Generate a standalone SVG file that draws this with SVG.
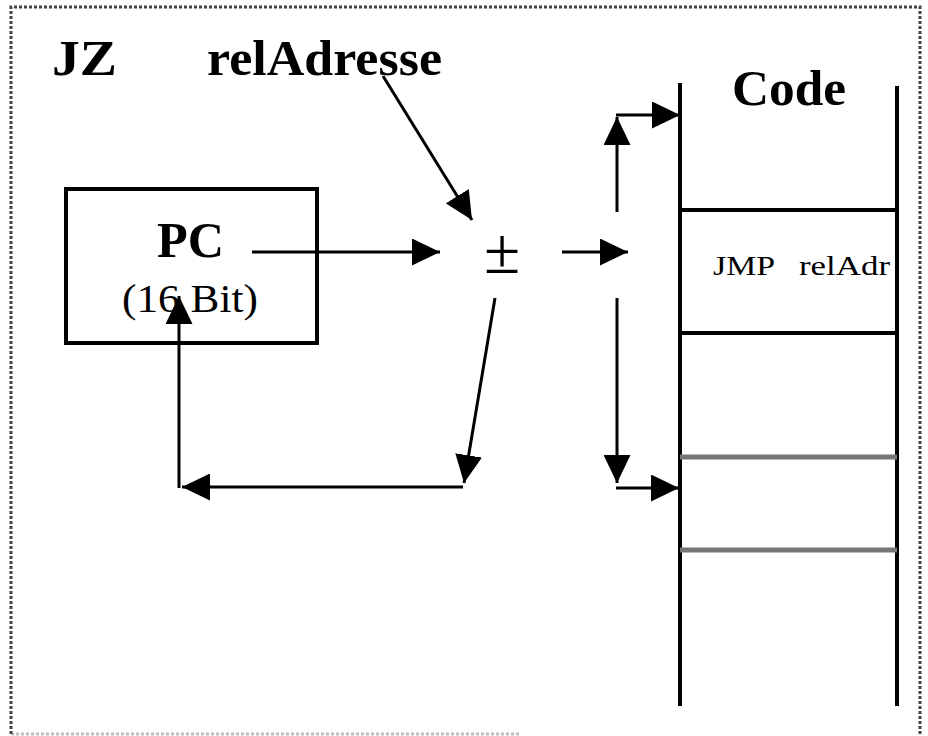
<svg xmlns="http://www.w3.org/2000/svg" width="928" height="736" viewBox="0 0 928 736">
  <style>
    .frame { fill: none; stroke: #444; stroke-width: 3; stroke-dasharray: 3 2; }
    .line { fill: none; stroke: #000; stroke-width: 3; }
    .grid { fill: none; stroke: #000; stroke-width: 4; }
    .grid-soft { fill: none; stroke: #777; stroke-width: 5; }
    .bold { font-family: "Liberation Serif", "Times New Roman", serif; font-weight: bold; font-size: 50px; fill: #000; }
    .reg { font-family: "Liberation Serif", "Times New Roman", serif; fill: #000; }
  </style>
  <defs>
    <marker id="arrow" markerUnits="userSpaceOnUse" markerWidth="29" markerHeight="27" refX="28" refY="13.5" orient="auto">
      <polygon points="0,0 28,13.5 0,27" fill="#000"/>
    </marker>
  </defs>

  <rect width="928" height="736" fill="#fff"/>

  <!-- dotted outer frame -->
  <path class="frame" d="M11,734 L11,7 L920,7 L920,734"/>
  <path class="frame" d="M11,734 L520,734" stroke-opacity="0.35"/>

  <!-- titles -->
  <text class="bold" x="52" y="75" textLength="65" lengthAdjust="spacingAndGlyphs">JZ</text>
  <text class="bold" x="207" y="75" textLength="235" lengthAdjust="spacingAndGlyphs">relAdresse</text>

  <!-- program counter -->
  <g id="pc">
    <rect x="66" y="189" width="251" height="154" fill="none" stroke="#000" stroke-width="4"/>
    <text class="bold" x="157" y="257" textLength="67" lengthAdjust="spacingAndGlyphs">PC</text>
    <text class="reg" x="122" y="312" font-size="40" textLength="136" lengthAdjust="spacingAndGlyphs">(16 Bit)</text>
  </g>

  <!-- adder -->
  <g id="adder">
    <text class="reg" x="502" y="273" font-size="66" text-anchor="middle" fill="#333">±</text>
  </g>

  <!-- code memory -->
  <g id="code">
    <text class="bold" x="732" y="105" textLength="114" lengthAdjust="spacingAndGlyphs">Code</text>
    <line class="grid" x1="680" y1="83" x2="680" y2="706"/>
    <line class="grid" x1="897" y1="86" x2="897" y2="706"/>
    <line class="grid" x1="680" y1="210" x2="897" y2="210"/>
    <line class="grid" x1="680" y1="333" x2="897" y2="333"/>
    <line class="grid-soft" x1="680" y1="457" x2="897" y2="457"/>
    <line class="grid-soft" x1="680" y1="550" x2="897" y2="550"/>
    <text class="reg" x="713" y="275" font-size="28" textLength="62" lengthAdjust="spacingAndGlyphs">JMP</text>
    <text class="reg" x="799" y="275" font-size="28" textLength="91" lengthAdjust="spacingAndGlyphs">relAdr</text>
  </g>

  <!-- connectors -->
  <g id="connectors">
    <line class="line" x1="383" y1="76" x2="472" y2="220" marker-end="url(#arrow)"/>
    <line class="line" x1="252" y1="252" x2="440" y2="252" marker-end="url(#arrow)"/>
    <line class="line" x1="562" y1="252" x2="628" y2="252" marker-end="url(#arrow)"/>

    <line class="line" x1="617" y1="212" x2="617" y2="117" marker-end="url(#arrow)"/>
    <line class="line" x1="616" y1="115" x2="680" y2="115" marker-end="url(#arrow)"/>

    <line class="line" x1="617" y1="298" x2="617" y2="483" marker-end="url(#arrow)"/>
    <line class="line" x1="616" y1="488" x2="679" y2="488" marker-end="url(#arrow)"/>

    <line class="line" x1="495" y1="298" x2="464" y2="483" marker-end="url(#arrow)"/>
    <line class="line" x1="463" y1="487" x2="182" y2="487" marker-end="url(#arrow)"/>
    <line class="line" x1="179" y1="488" x2="179" y2="296" marker-end="url(#arrow)"/>
  </g>
</svg>
